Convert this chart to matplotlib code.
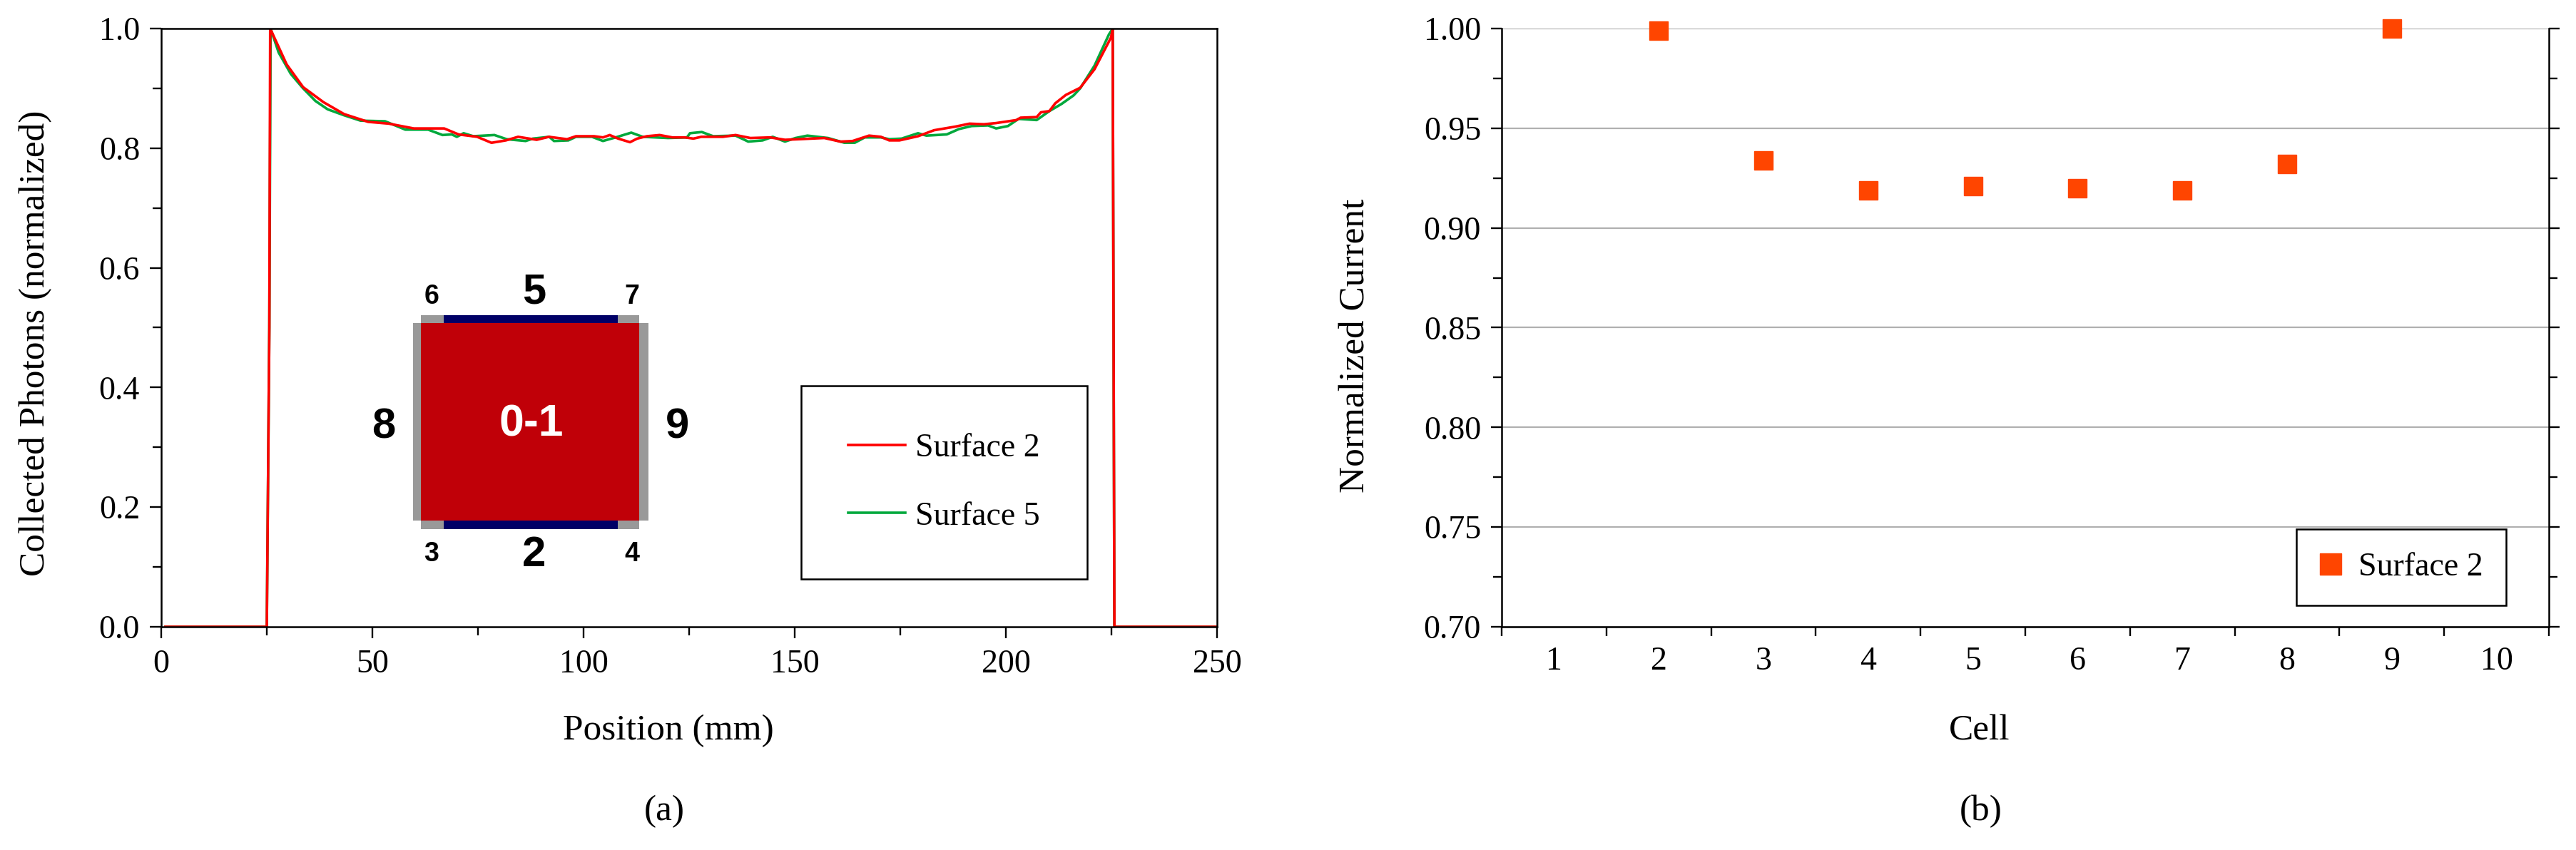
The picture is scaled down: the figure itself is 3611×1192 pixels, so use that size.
#!/usr/bin/env python
import numpy as np
import matplotlib
matplotlib.use("Agg")
import matplotlib.pyplot as plt
from matplotlib.patches import Rectangle
from matplotlib.ticker import MultipleLocator, FixedLocator, FixedFormatter

plt.rcParams['font.family'] = ['Liberation Serif', 'DejaVu Sans']

# panel (a), values
pos_s2 = [1, 25, 25.6, 25.8, 29.7, 33.6, 38.4, 43.3, 49, 53.9, 59.8, 67, 70.4, 74.8, 78.2, 81.6, 84.5,
          88.9, 91.8, 96.1, 98.2, 102.5, 104.6, 106.2, 108.2, 111, 112.7, 115, 118, 121, 124, 126, 127.9,
          133, 136, 139.5, 144.2, 147.7, 151, 157, 160.8, 163.7, 167.6, 170.4, 172.4, 174.8, 179.2, 183,
          188, 191.4, 194.8, 197.7, 202.5, 203.5, 207.3, 208.3, 210.3, 211.7, 214.2, 217.6, 221, 224.9,
          225.3, 225.7, 250]
val_s2 = [0, 0, 0.5, 1.0, 0.940, 0.902, 0.877, 0.857, 0.844, 0.841, 0.833, 0.833, 0.823, 0.819, 0.809, 0.813, 0.819,
          0.814, 0.819, 0.815, 0.820, 0.820, 0.818, 0.822, 0.816, 0.810, 0.816, 0.820, 0.822, 0.818, 0.818, 0.816, 0.819,
          0.819, 0.822, 0.817, 0.818, 0.814, 0.815, 0.817, 0.811, 0.812, 0.821, 0.819, 0.813, 0.813, 0.820, 0.830,
          0.836, 0.841, 0.840, 0.842, 0.847, 0.851, 0.852, 0.860, 0.862, 0.875, 0.889, 0.901, 0.932, 0.985,
          1.0, 0, 0]

pos_s5 = [1, 25, 25.6, 25.9, 27.8, 30.7, 33.6, 36.5, 39.4, 43.3, 47.2, 53, 57.8, 63.2, 66.6, 68.8, 70, 71.6, 73.9,
          78.9, 81.8, 86.3, 88, 91.9, 93, 96.4, 98.2, 102, 104.6, 107.6, 111.3, 114, 120, 124.5, 125.2, 128, 130.7,
          136, 139, 142.4, 144.8, 147.7, 150.2, 153, 157.9, 161.8, 164.2, 166.6, 170.4, 172.4, 175.3, 179.2,
          181.2, 186, 188.9, 191.9, 195.8, 197.7, 200.5, 203, 207.3, 210.3, 213.2, 216, 217.6, 221, 224.4,
          225.3, 225.7, 250]
val_s5 = [0, 0, 0.5, 1.0, 0.960, 0.924, 0.900, 0.879, 0.865, 0.855, 0.846, 0.845, 0.831, 0.831, 0.822, 0.823, 0.819, 0.825, 0.820,
          0.822, 0.815, 0.812, 0.816, 0.819, 0.812, 0.813, 0.819, 0.819, 0.812, 0.818, 0.826, 0.819, 0.817, 0.818, 0.825, 0.827, 0.820,
          0.821, 0.811, 0.813, 0.819, 0.811, 0.817, 0.821, 0.817, 0.809, 0.809, 0.818, 0.818, 0.815, 0.816, 0.825,
          0.821, 0.823, 0.832, 0.837, 0.838, 0.833, 0.837, 0.849, 0.847, 0.862, 0.874, 0.888, 0.900, 0.938, 0.990,
          1.0, 0, 0]

# panel (b)
cells = [2, 3, 4, 5, 6, 7, 8, 9]
current = [0.999, 0.934, 0.919, 0.921, 0.920, 0.919, 0.932, 1.000]
cell_labels = ['1', '2', '3', '4', '5', '6', '7', '8', '9', '10']

W = 3612
H = 1192
TICK_FS = 33
LABEL_FS = 37
LEG_FS = 33
PX = 0.72  # points per pixel at dpi 100


def box(x0, y0, x1, y1):
    return [x0/W, 1-y1/H, (x1-x0)/W, (y1-y0)/H]


fig = plt.figure(figsize=(W/100, H/100), dpi=100, facecolor='white')

# (a)
ax1 = fig.add_axes(box(226, 40, 1706, 879))
line5, = ax1.plot(pos_s5, val_s5, color='#00a83c', lw=2.6, label='Surface 5')
line2, = ax1.plot(pos_s2, val_s2, color='#ff0000', lw=2.6, label='Surface 2')
ax1.set_xlim(0, 250)
ax1.set_ylim(0, 1)
ax1.xaxis.set_major_locator(MultipleLocator(50))
ax1.xaxis.set_minor_locator(MultipleLocator(25))
ax1.yaxis.set_major_locator(MultipleLocator(0.2))
ax1.yaxis.set_minor_locator(MultipleLocator(0.1))
ax1.tick_params(which='major', length=16*PX, width=1.7, labelsize=TICK_FS)
ax1.tick_params(which='minor', length=12*PX, width=1.7)
ax1.tick_params(axis='x', pad=11)
ax1.tick_params(axis='y', pad=10)
for s in ax1.spines.values():
    s.set_linewidth(1.8)
leg1 = ax1.legend(handles=[line2, line5], loc='lower left', bbox_to_anchor=(1123/W, 1-812/H),
                  bbox_transform=fig.transFigure, borderaxespad=0, fontsize=LEG_FS, fancybox=False,
                  edgecolor='black', framealpha=1, handlelength=1.74, handletextpad=0.3,
                  labelspacing=1.15, borderpad=1.45)
leg1.get_frame().set_linewidth(1.8)

# (b)
ax2 = fig.add_axes(box(2105, 40, 3573, 879))
ax2.plot(cells, current, ls='none', marker='s', ms=19, color='#ff4500', clip_on=False, zorder=3, label='Surface 2')
ax2.set_xlim(0.5, 10.5)
ax2.set_ylim(0.70, 1.00)
ax2.xaxis.set_major_locator(MultipleLocator(1, offset=0.5))
ax2.xaxis.set_major_formatter(FixedFormatter([]))
ax2.xaxis.set_minor_locator(FixedLocator(np.arange(1, 11)))
ax2.xaxis.set_minor_formatter(FixedFormatter(cell_labels))
ax2.yaxis.set_major_locator(MultipleLocator(0.05))
ax2.yaxis.set_minor_locator(MultipleLocator(0.025))
ax2.yaxis.set_major_formatter('{x:.2f}')
ax2.tick_params(axis='y', which='major', length=15*PX, width=1.7, labelsize=TICK_FS, right=True, pad=10)
ax2.tick_params(axis='y', which='minor', length=12*PX, width=1.7, right=True)
ax2.tick_params(axis='x', which='major', length=13*PX, width=1.7)
ax2.tick_params(axis='x', which='minor', length=0, labelsize=TICK_FS, pad=20)
ax2.grid(axis='y', which='major', color='#b0b0b0', lw=1.6)
ax2.set_axisbelow(True)
ax2.spines['top'].set_visible(False)
for s in ['left', 'right', 'bottom']:
    ax2.spines[s].set_linewidth(1.8)
leg2 = ax2.legend(loc='lower left', bbox_to_anchor=(3219/W, 1-849/H), bbox_transform=fig.transFigure,
                  borderaxespad=0, fontsize=LEG_FS, fancybox=False, edgecolor='black', framealpha=1,
                  markerscale=1.15, handlelength=0.7, handletextpad=0.5, borderpad=0.7, numpoints=1)
leg2.get_frame().set_linewidth(1.8)

# overlay in pixel units for the schematic and the loose labels
ov = fig.add_axes([0, 0, 1, 1], zorder=5)
ov.set_xlim(0, W)
ov.set_ylim(H, 0)
ov.axis('off')

red = '#c00008'
navy = '#000066'
grey = '#999999'
ov.add_patch(Rectangle((579, 453), 11, 277, color=grey, lw=0))
ov.add_patch(Rectangle((896, 453), 13, 277, color=grey, lw=0))
for y0 in [442, 730]:
    ov.add_patch(Rectangle((590, y0), 306, 12, color=grey, lw=0))
    ov.add_patch(Rectangle((622, y0), 244, 12, color=navy, lw=0))
ov.add_patch(Rectangle((590, 453), 306, 277, color=red, lw=0))

sans = ['Liberation Sans', 'DejaVu Sans']
for txt, x, y in [('5', 749, 404), ('2', 749, 772), ('8', 538, 593), ('9', 950, 593)]:
    ov.text(x, y, txt, family=sans, weight='bold', fontsize=43, ha='center', va='center_baseline')
for txt, x, y in [('6', 605, 412), ('7', 886, 412), ('3', 605, 773), ('4', 886, 773)]:
    ov.text(x, y, txt, family=sans, weight='bold', fontsize=27, ha='center', va='center_baseline')
ov.text(745, 589, '0-1', family=sans, weight='bold', fontsize=45, color='white', ha='center', va='center_baseline')

ov.text(50, 481, 'Collected Photons (normalized)', rotation=90, fontsize=LABEL_FS, ha='center', va='center')
ov.text(1900, 485, 'Normalized Current', rotation=90, fontsize=LABEL_FS, ha='center', va='center')
ov.text(937, 1037, 'Position (mm)', fontsize=LABEL_FS, ha='center', va='baseline')
ov.text(2775, 1037, 'Cell', fontsize=LABEL_FS, ha='center', va='baseline')
ov.text(931, 1150, '(a)', fontsize=LABEL_FS, ha='center', va='baseline')
ov.text(2777, 1150, '(b)', fontsize=LABEL_FS, ha='center', va='baseline')

fig.savefig('out.png', dpi=100)
